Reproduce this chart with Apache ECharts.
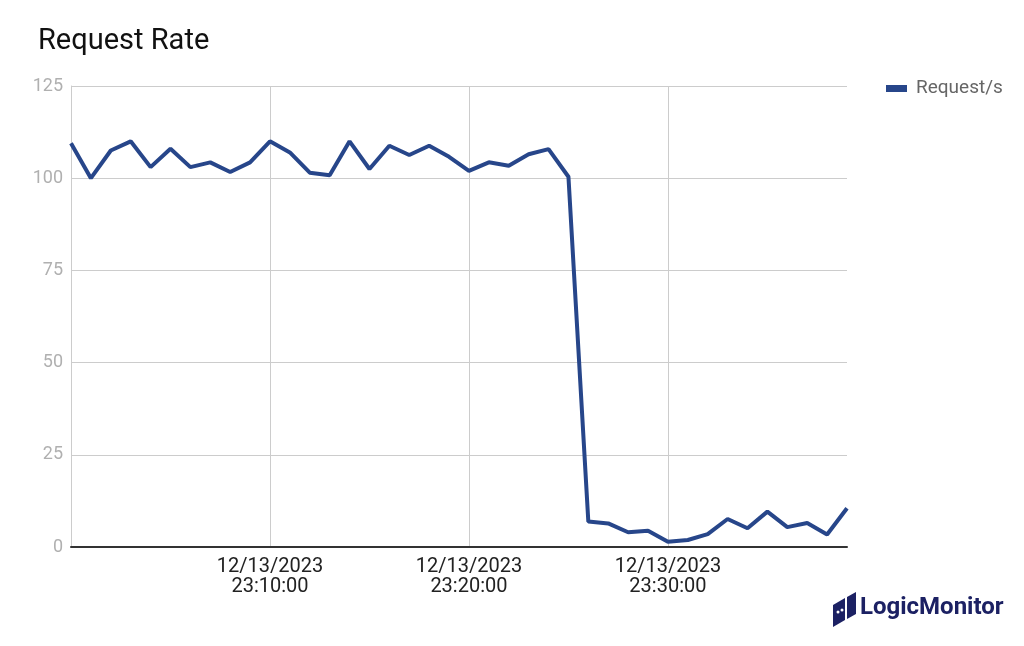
<!DOCTYPE html>
<html><head><meta charset="utf-8">
<script src="https://cdn.jsdelivr.net/npm/echarts@6/dist/echarts.min.js"></script>
<style>html,body{margin:0;padding:0;background:#fff}#c{width:1024px;height:646px}</style>
</head><body><div id="c"></div>
<script>
const categories = ["23:00:00","23:01:00","23:02:00","23:03:00","23:04:00","23:05:00","23:06:00","23:07:00","23:08:00","23:09:00",
"23:10:00","23:11:00","23:12:00","23:13:00","23:14:00","23:15:00","23:16:00","23:17:00","23:18:00","23:19:00",
"23:20:00","23:21:00","23:22:00","23:23:00","23:24:00","23:25:00","23:26:00","23:27:00","23:28:00","23:29:00",
"23:30:00","23:31:00","23:32:00","23:33:00","23:34:00","23:35:00","23:36:00","23:37:00","23:38:00","23:39:00"];
const datePrefix = "12/13/2023";
const requestRate = [109.5,100,107.5,110,103,108,103,104.3,101.7,104.3,
110,107,101.5,100.8,110,102.5,108.8,106.3,108.8,105.8,
102,104.3,103.4,106.5,107.9,100.4,6.9,6.4,4,4.4,
1.4,1.9,3.5,7.6,5.1,9.6,5.4,6.5,3.4,10.5];
const yTicks = [0,25,50,75,100,125];

const chart = echarts.init(document.getElementById('c'), null, {renderer:'canvas'});
const showIdx = (i) => i > 0 && i % 10 === 0;
chart.setOption({
  animation:false,
  textStyle:{fontFamily:'Roboto'},
  title:{text:'Request Rate', left:33, top:22, textStyle:{fontFamily:'Roboto', fontSize:29, fontWeight:'normal', color:'#111'}},
  legend:{
    show:true, left:881, top:74, itemWidth:21, itemHeight:7, itemGap:10,
    icon:'rect',
    textStyle:{fontFamily:'Roboto', fontSize:19, color:'#666', padding:[0,0,0,4]},
    data:['Request/s']
  },
  grid:{left:71, right:177, top:86, bottom:99, containLabel:false},
  xAxis:{
    type:'category', boundaryGap:false, data:categories,
    axisLine:{show:true, lineStyle:{color:'#333', width:2}},
    axisTick:{show:false},
    axisLabel:{interval:(i)=>showIdx(i), formatter:(v)=>datePrefix+'\n'+v, color:'#222', fontSize:20, lineHeight:20, margin:10, fontFamily:'Roboto'},
    splitLine:{show:true, interval:(i)=>showIdx(i), lineStyle:{color:'#ccc', width:1}}
  },
  yAxis:{
    type:'value', min:yTicks[0], max:yTicks[yTicks.length-1], interval:25,
    axisLine:{show:true, lineStyle:{color:'#ccc', width:1}},
    axisTick:{show:false},
    axisLabel:{color:'#b0b0b0', fontSize:18, margin:8, fontFamily:'Roboto'},
    splitLine:{show:true, lineStyle:{color:'#ccc', width:1}}
  },
  series:[{
    name:'Request/s', type:'line', data:requestRate, showSymbol:false, symbol:'none',
    lineStyle:{color:'#27468a', width:4}, itemStyle:{color:'#27468a'}
  }],
  graphic:[
    {type:'polygon', shape:{points:[[833,605],[845,598],[845,620],[833,627]]}, style:{fill:'#1c2163'}},
    {type:'polygon', shape:{points:[[847,597],[856,592],[856,614],[847,619]]}, style:{fill:'#1c2163'}},
    {type:'circle', shape:{cx:838, cy:612, r:1.5}, style:{fill:'#fff'}},
    {type:'circle', shape:{cx:842, cy:610, r:1.5}, style:{fill:'#fff'}},
    {type:'text', left:860, top:596, style:{text:'LogicMonitor', fill:'#1c2163', font:'bold 24px Roboto'}}
  ]
});
</script></body></html>
